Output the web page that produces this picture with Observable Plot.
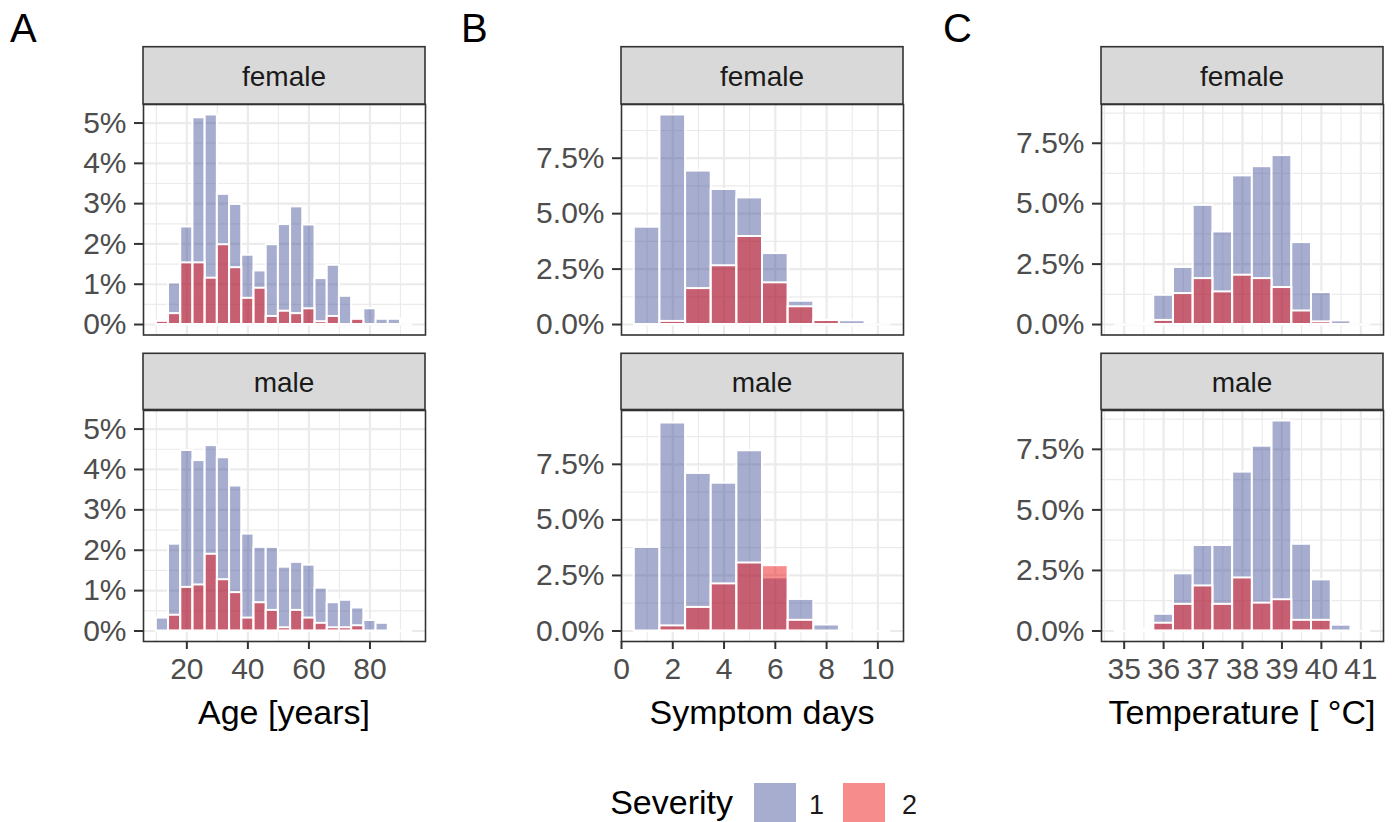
<!DOCTYPE html>
<html><head><meta charset="utf-8">
<script src="https://cdn.jsdelivr.net/npm/d3@7"></script>
<script src="https://cdn.jsdelivr.net/npm/@observablehq/plot@0.6"></script>
<style>
body{margin:0;background:#fff;}
#root{position:relative;width:1393px;height:822px;overflow:hidden;font-family:"Liberation Sans",Arial,sans-serif;background:#fff;}
.panel{position:absolute;}
.panel svg{overflow:visible;}
#overlay{position:absolute;left:0;top:0;pointer-events:none;}
</style></head><body><div id="root"></div>
<script>
// ---------- data (percent of cases) ----------
const sexes = ["female", "male"];
const severityLevels = ["1", "2"];

// Age [years], bins of 4 years (centres)
const ageBins = [12,16,20,24,28,32,36,40,44,48,52,56,60,64,68,72,76,80,84,88,92];
const ageFemaleSev1 = [0.08,1.03,2.42,5.13,5.20,3.23,2.98,1.72,1.33,1.98,2.48,2.92,2.47,1.14,1.47,0.70,0.13,0.39,0.13,0.13,0];
const ageFemaleSev2 = [0.08,0.27,1.53,1.53,1.15,1.98,1.41,0.65,0.90,0.20,0.33,0.27,0.39,0.07,0.20,0,0.13,0,0,0,0];
const ageMaleSev1   = [0.32,2.15,4.47,4.22,4.59,4.29,3.59,2.40,2.07,2.07,1.58,1.70,1.63,1.06,0.70,0.76,0.57,0.26,0.19,0,0];
const ageMaleSev2   = [0,0.39,1.08,1.14,1.90,1.27,0.95,0.32,0.70,0.51,0.08,0.51,0.32,0.19,0.08,0.08,0.13,0,0,0,0];

// Symptom days, bins of 1 day
const dayBins = [1,2,3,4,5,6,7,8,9,10];
const dayFemaleSev1 = [4.39,9.45,6.92,6.09,5.71,3.20,1.05,0.18,0.17,0];
const dayFemaleSev2 = [0,0.14,1.62,2.65,3.97,1.88,0.80,0.18,0,0];
const dayMaleSev1   = [3.76,9.36,7.09,6.65,8.11,2.39,1.42,0.27,0,0];
const dayMaleSev2   = [0,0.23,1.06,2.12,3.06,2.94,0.48,0,0,0];

// Temperature [°C], bins of 0.5 °C
const tempBins = [35,35.5,36,36.5,37,37.5,38,38.5,39,39.5,40,40.5,41];
const tempFemaleSev1 = [0,0,1.21,2.36,4.93,3.83,6.15,6.53,6.99,3.39,1.32,0.15,0];
const tempFemaleSev2 = [0,0.05,0.17,1.28,1.90,1.35,2.04,1.90,1.53,0.56,0.11,0,0];
const tempMaleSev1   = [0,0,0.69,2.36,3.53,3.53,6.56,7.63,8.67,3.58,2.11,0.24,0];
const tempMaleSev2   = [0,0.05,0.32,1.10,1.86,1.10,2.19,1.15,1.29,0.44,0.44,0,0];

// tick labels
const ageTicks = [20,40,60,80];
const dayTicks = [0,2,4,6,8,10];
const tempTicks = [35,36,37,38,39,40,41];
const pctTicksA = [0,1,2,3,4,5];
const pctTicksBC = [0,2.5,5,7.5];

const panelTags = ["A","B","C"];
const axisTitles = ["Age [years]","Symptom days","Temperature [ \u00b0C]"];
const legendTitle = "Severity";

// ---------- style ----------
const COL1 = "#3B4992", COL2 = "#EE0000", ALPHA = 0.45;
const GRID = "#ebebeb", DARK = "#333333";

const root = document.getElementById("root");

function minorOf(major, lo, hi) {
  const step = major[1] - major[0];
  const out = [];
  for (let v = major[0] - step / 2; v <= major[major.length - 1] + step / 2 + 1e-9; v += step) {
    if (v > lo && v < hi) out.push(+v.toFixed(4));
  }
  return out;
}

function panel(o) {
  const W = 282;
  const mL = 100, mR = 8, mT = 8, mB = o.showX ? 70 : 8;
  const bw = o.bw;
  const rows = (arr) => o.bins.map((x, i) => ({x0: x - bw / 2, x1: x + bw / 2, v: arr[i]})).filter(d => d.v > 0);
  const lo = o.bins[0] - bw / 2, hi = o.bins[o.bins.length - 1] + bw / 2;
  const ex = (hi - lo) * 0.05;
  const xDomain = [lo - ex, hi + ex];
  const yDomain = [-0.05 * o.ymax, 1.05 * o.ymax];
  const xMinor = minorOf(o.xTicks, xDomain[0], xDomain[1]);
  const yMinor = minorOf(o.yTicks, yDomain[0], yDomain[1]);
  const marks = [
    Plot.ruleY(yMinor, {stroke: GRID, strokeWidth: 1.2}),
    Plot.ruleX(xMinor, {stroke: GRID, strokeWidth: 1.2}),
    Plot.ruleY(o.yTicks, {stroke: GRID, strokeWidth: 2.2}),
    Plot.ruleX(o.xTicks.filter(t => t > xDomain[0] && t < xDomain[1]), {stroke: GRID, strokeWidth: 2.2}),
    Plot.ruleY([0], {x1: lo, x2: hi, stroke: "white", strokeWidth: 2}),
    Plot.rect(rows(o.s1), {x1: "x0", x2: "x1", y1: 0, y2: "v", fill: COL1, fillOpacity: ALPHA, stroke: "white", strokeWidth: 2}),
    Plot.rect(rows(o.s2), {x1: "x0", x2: "x1", y1: 0, y2: "v", fill: COL2, fillOpacity: ALPHA, stroke: "white", strokeWidth: 2}),
    Plot.frame({stroke: DARK, strokeWidth: 1.6}),
    Plot.axisY(o.yTicks, {tickFormat: o.yFmt, tickSize: 9, tickPadding: 8, stroke: DARK, strokeWidth: 2, fill: "#4d4d4d", label: null})
  ];
  if (o.showX) marks.push(Plot.axisX(o.xTicks, {tickSize: 8, tickPadding: 8, stroke: DARK, strokeWidth: 2, fill: "#4d4d4d", tickFormat: d => String(d), label: null}));
  const chart = Plot.plot({
    width: mL + W + mR,
    height: mT + o.h + mB,
    marginLeft: mL, marginRight: mR, marginTop: mT, marginBottom: mB,
    x: {domain: xDomain, axis: o.showX ? undefined : null, label: null},
    y: {domain: yDomain, label: null},
    style: {fontFamily: "Liberation Sans, Arial, sans-serif", fontSize: "30px", background: "transparent", overflow: "visible"},
    marks
  });
  const div = document.createElement("div");
  div.className = "panel";
  div.style.left = (o.left - mL) + "px";
  div.style.top = (o.top - mT) + "px";
  div.appendChild(chart);
  root.appendChild(div);
}

const colLeft = [143, 621, 1101];
const rowTop = [104, 409.5];
const rowH = [230.5, 231];
const cols = [
  {bins: ageBins, bw: 4, xTicks: ageTicks, yTicks: pctTicksA, yFmt: d => d + "%",
   data: [[ageFemaleSev1, ageFemaleSev2], [ageMaleSev1, ageMaleSev2]]},
  {bins: dayBins, bw: 1, xTicks: dayTicks, yTicks: pctTicksBC, yFmt: d => d.toFixed(1) + "%",
   data: [[dayFemaleSev1, dayFemaleSev2], [dayMaleSev1, dayMaleSev2]]},
  {bins: tempBins, bw: 0.5, xTicks: tempTicks, yTicks: pctTicksBC, yFmt: d => d.toFixed(1) + "%",
   data: [[tempFemaleSev1, tempFemaleSev2], [tempMaleSev1, tempMaleSev2]]}
];

cols.forEach((c, ci) => {
  const ymax = d3.max(c.data.flat(2));
  sexes.forEach((s, ri) => {
    panel({bins: c.bins, bw: c.bw, xTicks: c.xTicks, yTicks: c.yTicks, yFmt: c.yFmt,
      s1: c.data[ri][0], s2: c.data[ri][1], ymax,
      left: colLeft[ci], top: rowTop[ri], h: rowH[ri], showX: ri === 1});
  });
});

// ---------- overlay: tags, strips, axis titles, legend ----------
const NS = "http://www.w3.org/2000/svg";
const ov = document.createElementNS(NS, "svg");
ov.setAttribute("id", "overlay");
ov.setAttribute("width", 1393);
ov.setAttribute("height", 822);
ov.style.fontFamily = "Liberation Sans, Arial, sans-serif";
root.appendChild(ov);
function el(tag, attrs, text) {
  const e = document.createElementNS(NS, tag);
  for (const k in attrs) e.setAttribute(k, attrs[k]);
  if (text != null) e.textContent = text;
  ov.appendChild(e);
  return e;
}
const tagX = [10, 461, 943];
panelTags.forEach((t, i) => el("text", {x: tagX[i], y: 42, "font-size": 40, fill: "#000"}, t));

const stripTop = [46.7, 353.3];
const stripH = [57.3, 56.2];
const stripBase = [85.5, 391.5];
colLeft.forEach((x) => {
  sexes.forEach((s, ri) => {
    el("rect", {x: x, y: stripTop[ri], width: 282, height: stripH[ri], fill: "#d9d9d9", stroke: DARK, "stroke-width": 1.6});
    el("text", {x: x + 141, y: stripBase[ri], "font-size": 28, fill: "#1a1a1a", "text-anchor": "middle"}, s);
  });
});
axisTitles.forEach((t, i) => el("text", {x: colLeft[i] + 141, y: 724, "font-size": 34, fill: "#000", "text-anchor": "middle"}, t));

// legend
el("text", {x: 733, y: 814, "font-size": 34, fill: "#000", "text-anchor": "end"}, legendTitle);
const keyX = [754, 843];
const keyCol = [COL1, COL2];
const labX = [809, 902];
severityLevels.forEach((lv, i) => {
  el("rect", {x: keyX[i], y: 783, width: 42, height: 42, fill: keyCol[i], "fill-opacity": ALPHA});
  el("text", {x: labX[i], y: 814, "font-size": 27, fill: "#1a1a1a"}, lv);
});
</script></body></html>
